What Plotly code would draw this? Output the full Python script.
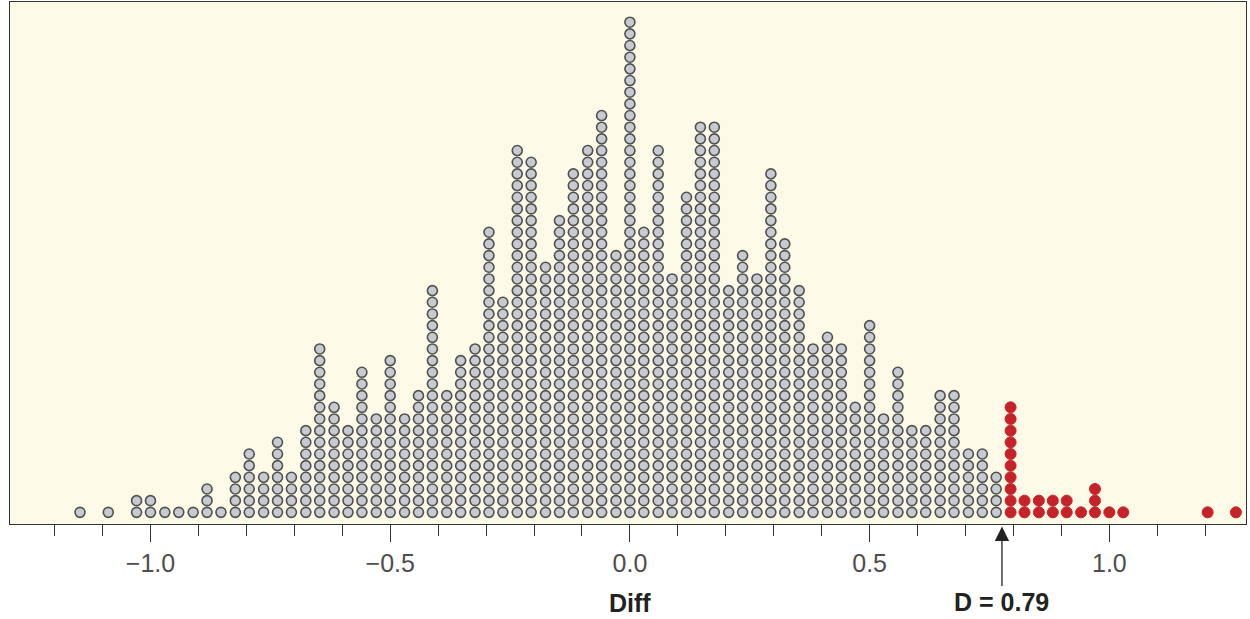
import plotly.graph_objects as go

# Column positions (Diff values) and number of dots stacked in each column
diff_bins = [-1.147, -1.117, -1.088, -1.058, -1.029, -1.000, -0.970, -0.941, -0.911, -0.882,
             -0.853, -0.823, -0.794, -0.764, -0.735, -0.706, -0.676, -0.647, -0.617, -0.588,
             -0.559, -0.529, -0.500, -0.470, -0.441, -0.412, -0.382, -0.353, -0.323, -0.294,
             -0.265, -0.235, -0.206, -0.176, -0.147, -0.118, -0.088, -0.059, -0.029, 0.000,
             0.029, 0.059, 0.088, 0.118, 0.147, 0.176, 0.206, 0.235, 0.265, 0.294,
             0.323, 0.353, 0.382, 0.412, 0.441, 0.470, 0.500, 0.529, 0.559, 0.588,
             0.617, 0.647, 0.676, 0.706, 0.735, 0.764, 0.794, 0.823, 0.853, 0.882,
             0.911, 0.941, 0.970, 1.000, 1.029, 1.058, 1.088, 1.117, 1.147, 1.176,
             1.205, 1.235, 1.264]
counts = [1, 0, 1, 0, 2, 2, 1, 1, 1, 3,
          1, 4, 6, 4, 7, 4, 8, 15, 10, 8,
          13, 9, 14, 9, 11, 20, 11, 14, 15, 25,
          19, 32, 31, 22, 26, 30, 32, 35, 23, 43,
          25, 32, 21, 28, 34, 34, 20, 23, 21, 30,
          24, 20, 15, 16, 15, 10, 17, 9, 13, 8,
          8, 11, 11, 6, 6, 4, 10, 2, 2, 2,
          2, 1, 3, 1, 1, 0, 0, 0, 0, 0,
          1, 0, 1]
D_value = 0.79
tick_vals = [-1.0, -0.5, 0.0, 0.5, 1.0]
tick_text = ["\u22121.0", "\u22120.5", "0.0", "0.5", "1.0"]

gx, gy, rx, ry = [], [], [], []
for x, c in zip(diff_bins, counts):
    for j in range(1, c + 1):
        if x >= D_value:
            rx.append(x); ry.append(j)
        else:
            gx.append(x); gy.append(j)

fig = go.Figure()
fig.add_trace(go.Scatter(x=gx, y=gy, mode="markers", hoverinfo="skip",
                         marker=dict(size=10, color="#c8cad2",
                                     line=dict(color="#505050", width=1.6))))
fig.add_trace(go.Scatter(x=rx, y=ry, mode="markers", hoverinfo="skip",
                         marker=dict(size=11, color="#c62229",
                                     line=dict(color="#c62229", width=1))))

fig.update_layout(
    width=1250, height=619,
    margin=dict(l=10, r=4, t=2, b=95),
    paper_bgcolor="white", plot_bgcolor="#fdfbe7",
    showlegend=False,
    font=dict(family="Liberation Sans, Arial, sans-serif"),
    xaxis=dict(range=[-1.293, 1.285], showgrid=False, zeroline=False,
               showline=True, mirror=True, linecolor="#333", linewidth=1.2,
               tickmode="array", tickvals=tick_vals, ticktext=tick_text,
               ticks="outside", ticklen=17, tickwidth=1.2, tickcolor="#333",
               tickfont=dict(size=25, color="#4d4d4d"),
               minor=dict(dtick=0.1, tick0=0, ticks="outside", ticklen=11,
                          tickwidth=1.2, tickcolor="#333")),
    yaxis=dict(range=[0, 44.73], showgrid=False, zeroline=False,
               showticklabels=False, ticks="",
               showline=True, mirror=True, linecolor="#333", linewidth=1.2),
)

fig.add_annotation(x=0.0, xref="x", y=-0.1513, yref="paper", text="<b>Diff</b>",
                   showarrow=False, font=dict(size=25, color="#222"),
                   xanchor="center", yanchor="middle")
fig.add_annotation(x=0.776, xref="x", y=-0.005, yref="paper", text="<b>D = 0.79</b>",
                   showarrow=True, arrowhead=2, arrowsize=2.2, arrowwidth=1.3,
                   arrowcolor="#222", ax=0, ay=75,
                   font=dict(size=25, color="#222"))

fig.write_html("out.html", config={"displayModeBar": False},
               post_script="document.body.style.margin='0';document.body.style.overflow='hidden';")
